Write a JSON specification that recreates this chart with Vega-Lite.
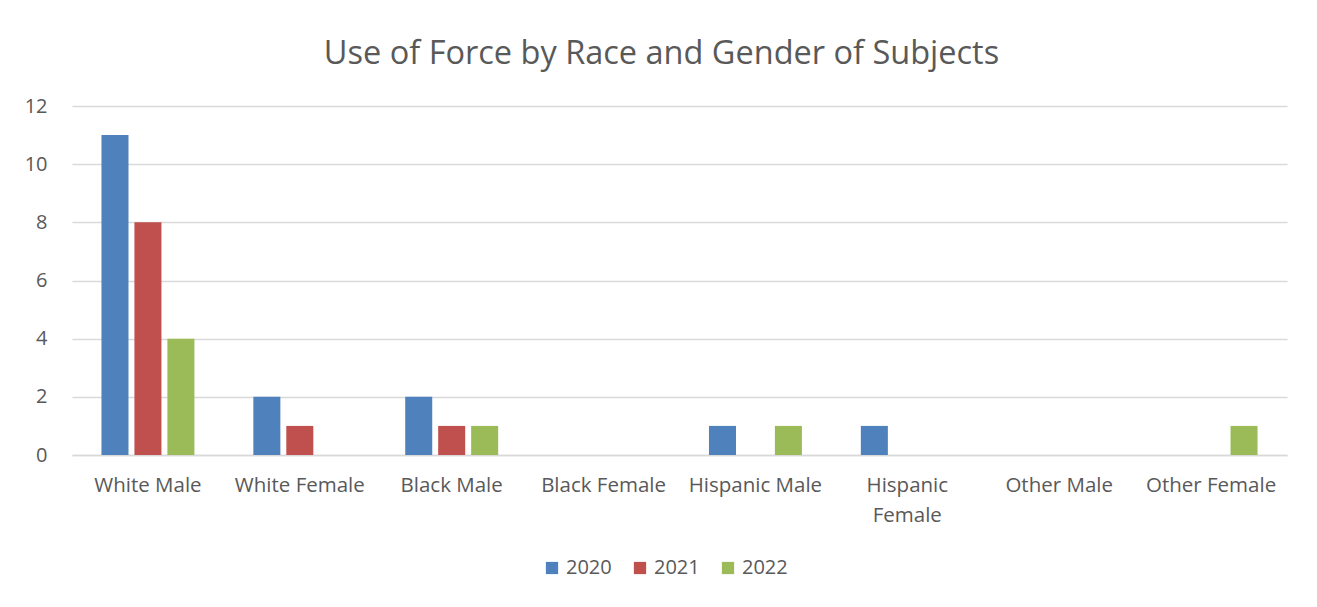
{
  "$schema": "https://vega.github.io/schema/vega-lite/v6.json",
  "autosize": {"type": "none"},
  "width": 1215,
  "height": 349,
  "padding": {"left": 72, "top": 106, "right": 30, "bottom": 152},
  "background": "white",
  "title": {
    "text": "Use of Force by Race and Gender of Subjects",
    "anchor": "middle",
    "dx": -18,
    "baseline": "alphabetic",
    "offset": 0,
    "font": "Open Sans",
    "fontSize": 32.5,
    "fontWeight": "normal",
    "color": "#595959"
  },
  "data": {
    "values": [
      {"group": "White Male", "year": "2020", "count": 11},
      {"group": "White Male", "year": "2021", "count": 8},
      {"group": "White Male", "year": "2022", "count": 4},
      {"group": "White Female", "year": "2020", "count": 2},
      {"group": "White Female", "year": "2021", "count": 1},
      {"group": "White Female", "year": "2022", "count": 0},
      {"group": "Black Male", "year": "2020", "count": 2},
      {"group": "Black Male", "year": "2021", "count": 1},
      {"group": "Black Male", "year": "2022", "count": 1},
      {"group": "Black Female", "year": "2020", "count": 0},
      {"group": "Black Female", "year": "2021", "count": 0},
      {"group": "Black Female", "year": "2022", "count": 0},
      {"group": "Hispanic Male", "year": "2020", "count": 1},
      {"group": "Hispanic Male", "year": "2021", "count": 0},
      {"group": "Hispanic Male", "year": "2022", "count": 1},
      {"group": "Hispanic Female", "year": "2020", "count": 1},
      {"group": "Hispanic Female", "year": "2021", "count": 0},
      {"group": "Hispanic Female", "year": "2022", "count": 0},
      {"group": "Other Male", "year": "2020", "count": 0},
      {"group": "Other Male", "year": "2021", "count": 0},
      {"group": "Other Male", "year": "2022", "count": 0},
      {"group": "Other Female", "year": "2020", "count": 0},
      {"group": "Other Female", "year": "2021", "count": 0},
      {"group": "Other Female", "year": "2022", "count": 1}
    ]
  },
  "mark": {"type": "bar"},
  "encoding": {
    "x": {
      "field": "group",
      "type": "nominal",
      "sort": null,
      "scale": {"paddingInner": 0.388, "paddingOuter": 0.194},
      "axis": {
        "title": null,
        "labelAngle": 0,
        "ticks": false,
        "domainColor": "#D9D9D9",
        "domainWidth": 1.5,
        "labelFont": "Open Sans",
        "labelFontSize": 20.5,
        "labelColor": "#595959",
        "labelPadding": 20,
        "labelLimit": 200,
        "labelLineHeight": 30,
        "labelExpr": "datum.label == 'Hispanic Female' ? ['Hispanic', 'Female'] : datum.label"
      }
    },
    "xOffset": {
      "field": "year",
      "type": "nominal",
      "scale": {"paddingInner": 0.18, "paddingOuter": 0}
    },
    "y": {
      "field": "count",
      "type": "quantitative",
      "scale": {"domain": [0, 12]},
      "axis": {
        "title": null,
        "values": [0, 2, 4, 6, 8, 10, 12],
        "domain": false,
        "ticks": false,
        "gridColor": "#D9D9D9",
        "gridWidth": 1.3,
        "labelFont": "Open Sans",
        "labelFontSize": 20,
        "labelColor": "#595959",
        "labelPadding": 25
      }
    },
    "color": {
      "field": "year",
      "type": "nominal",
      "scale": {"domain": ["2020", "2021", "2022"], "range": ["#4F81BD", "#C0504D", "#9BBB59"]},
      "legend": {
        "title": null,
        "orient": "none",
        "legendX": 470,
        "legendY": 452,
        "direction": "horizontal",
        "symbolType": "square",
        "symbolSize": 150,
        "symbolStrokeWidth": 0,
        "labelFont": "Open Sans",
        "labelFontSize": 20,
        "labelColor": "#595959",
        "columnPadding": 18
      }
    }
  },
  "config": {
    "view": {"stroke": null}
  }
}
